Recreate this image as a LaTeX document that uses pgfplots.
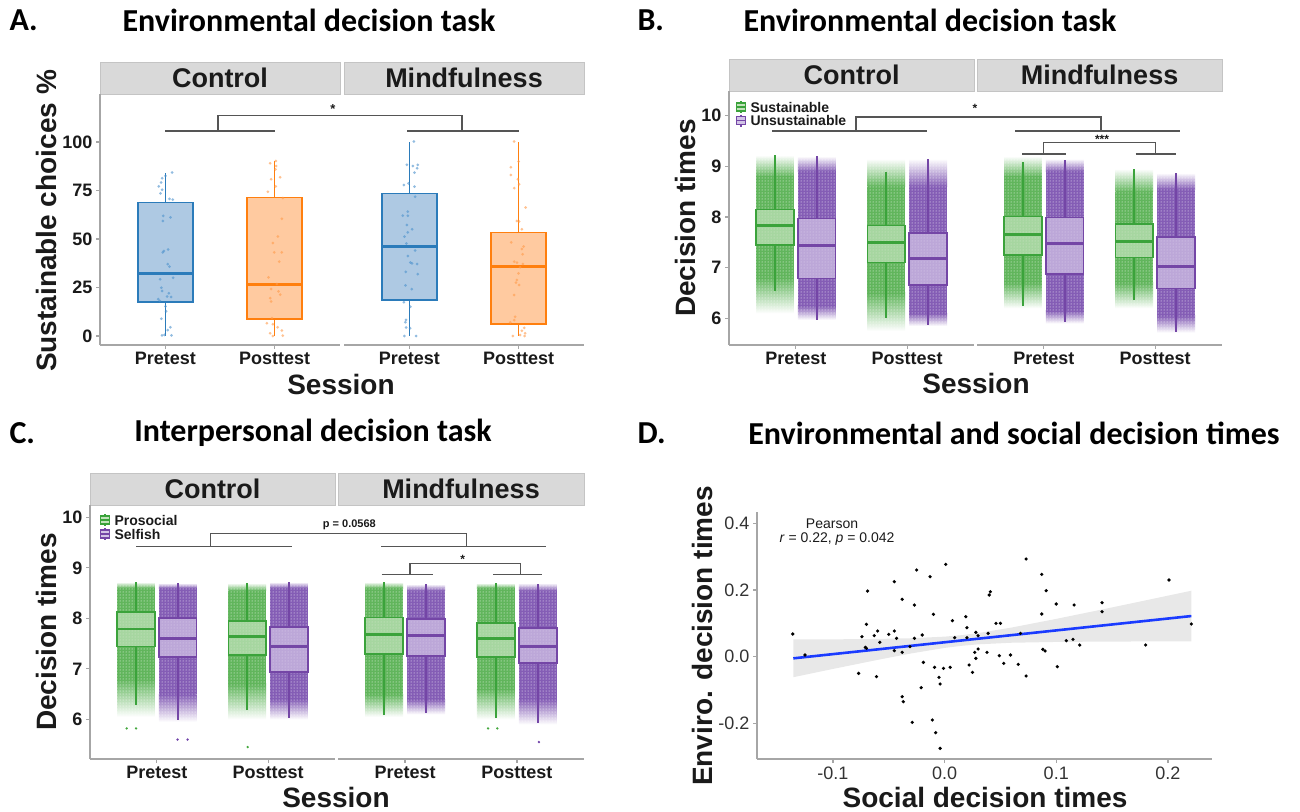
\documentclass[border=0pt]{standalone}
\usepackage{fontspec}
\setmainfont{Liberation Sans}
\newfontfamily\titlefont{Carlito}
\usepackage{pgfplots}
\pgfplotsset{compat=1.18}
\usepgfplotslibrary{statistics}
\usetikzlibrary{patterns}

\definecolor{axgray}{HTML}{A6A6A6}
\definecolor{stripfill}{HTML}{D9D9D9}
\definecolor{stripdraw}{HTML}{C4C4C4}
\definecolor{brk}{HTML}{555555}
\definecolor{bline}{HTML}{2B7BBA}
\definecolor{bfill}{HTML}{A0C0DE}
\definecolor{bpt}{HTML}{4A90CC}
\definecolor{oline}{HTML}{FF7F0E}
\definecolor{ofill}{HTML}{FFC18F}
\definecolor{opt}{HTML}{FF9A4A}
\definecolor{gline}{HTML}{3BA33B}
\definecolor{gfill}{HTML}{C2E3BB}
\definecolor{gpt}{HTML}{45A83F}
\definecolor{pline}{HTML}{7446A6}
\definecolor{pfill}{HTML}{D2C4E6}
\definecolor{ppt}{HTML}{6E40A8}
\definecolor{fitblue}{HTML}{1A3BFF}
\definecolor{txt}{HTML}{1A1A1A}

\pgfplotsset{
  facet/.style={scale only axis, anchor=south west, xmin=0.4, xmax=2.6,
    xtick={1,2}, xticklabels={Pretest,Posttest},
    axis line style={draw=axgray, line width=1.5pt, -},
    tick style={draw=axgray, line width=1.2pt},
    major tick length=4pt, tick align=outside,
    tick label style={font=\bfseries\fontsize{18}{18}\selectfont, text=txt},
    /pgf/number format/assume math mode=true,
    axis x line*=bottom, clip=false},
  leftfacet/.style={facet, axis y line*=left},
  rightfacet/.style={facet, axis y line=none},
  bp/.style n args={3}{
    boxplot/draw direction=y,
    boxplot/every box/.style={fill=#2, fill opacity=#3, draw=#1, line width=1.6pt},
    boxplot/every median/.style={draw=#1, line width=2.8pt},
    boxplot/every whisker/.style={draw=#1, line width=1.8pt},
    boxplot/whisker extend=0, mark=none, draw=#1},
  ptsA/.style={only marks, mark=*, mark size=1.5pt, color=#1, mark options={fill=#1, draw opacity=0, fill opacity=0.6}},
}

% box: pos, wl, q1, med, q3, wh, line, fill
\newcommand{\bx}[8]{%
  \addplot[bp={#7}{#8}{0.72}, boxplot prepared={draw position=#1, lower whisker=#2,
    lower quartile=#3, median=#4, upper quartile=#5, upper whisker=#6, box extend=0.34}] coordinates {};}
\newcommand{\bxA}[8]{%
  \addplot[bp={#7}{#8}{0.85}, boxplot prepared={draw position=#1, lower whisker=#2,
    lower quartile=#3, median=#4, upper quartile=#5, upper whisker=#6, box extend=0.5}] coordinates {};}
% cloud: xL, xR, min, core low, core high, max, colour
\newcommand{\cloud}[7]{%
  \addplot[draw=none, top color=white, bottom color=#7!85] coordinates {(#1,#5) (#2,#5) (#2,#6) (#1,#6)};
  \addplot[draw=none, top color=#7!85, bottom color=white] coordinates {(#1,#3) (#2,#3) (#2,#4) (#1,#4)};
  \addplot[draw=none, fill=#7!85] coordinates {(#1,#4) (#2,#4) (#2,#5) (#1,#5)};
  \addplot[draw=none, pattern=dots, pattern color=white] coordinates {(#1,#3) (#2,#3) (#2,#6) (#1,#6)};}

\newcommand{\bigbf}{\bfseries\fontsize{28}{28}\selectfont}
\newcommand{\ttl}{\titlefont\bfseries\fontsize{32}{32}\selectfont}
\newcommand{\strip}{\bfseries\fontsize{27}{27}\selectfont}

\begin{document}
\begin{tikzpicture}[x=1pt,y=1pt]
\useasboundingbox (0,0) rectangle (1300,-811);

% ---------- titles ----------
\node[anchor=west, font=\ttl] at (6,-20) {A.};
\node[font=\ttl] at (309,-20) {Environmental decision task};
\node[anchor=west, font=\ttl] at (634,-20) {B.};
\node[font=\ttl] at (930,-20) {Environmental decision task};
\node[anchor=west, font=\ttl] at (6,-433) {C.};
\node[font=\ttl] at (313,-433) {Interpersonal decision task};
\node[anchor=west, font=\ttl] at (634,-433) {D.};
\node[font=\ttl] at (1014,-433) {Environmental and social decision times};

% ---------- strips ----------
\foreach \a/\b/\t/\bt/\lab in {100/340/62/94/Control, 344/584/62/94/Mindfulness,
  729/974/59/91/Control, 977/1222/59/91/Mindfulness,
  90/335/473/505/Control, 338/584/473/505/Mindfulness}{
  \filldraw[fill=stripfill, draw=stripdraw, line width=1pt] (\a,-\t) rectangle (\b,-\bt);
  \node[font=\strip, text=txt] at ({(\a+\b)/2},{-(\t+\bt)/2}) {\lab};
}

% ================= PANEL A =================
\begin{axis}[leftfacet, at={(100pt,-345pt)}, width=240pt, height=251pt,
  ymin=-4.64, ymax=124.7, ytick={0,25,50,75,100}]
\bxA{1}{0}{17.5}{32.1}{68.7}{84}{bline}{bfill}
\bxA{2}{0}{8.9}{26.6}{71.3}{90}{oline}{ofill}
\addplot[ptsA=bpt] coordinates {
(1.061,84.2) (1.0,82.5) (0.969,81.3) (0.96,79.1) (0.939,77.1) (0.969,75.4) (0.954,73.5) (1.037,70.6) (1.067,70.3)
(0.979,61.9) (1.046,61.1) (0.976,59.3) (1.024,44.6) (0.985,43.8) (0.976,43.1) (1.021,37.0) (1.037,35.8) (1.07,30.0)
(0.951,29.2) (0.963,24.9) (0.969,23.2) (1.031,22) (1.015,20.4) (1.052,20.1) (0.933,19) (0.948,18.1) (1.0,15.3)
(1.006,12.7) (0.963,8.9) (1.046,4.5) (1.021,3.0) (0.969,0.3) (1.055,0.3) (0.991,0.6)};
\addplot[ptsA=opt] coordinates {
(2.012,90.2) (1.96,89) (2.015,87.6) (2.009,85.9) (2.052,81.8) (1.969,80.8) (2.012,77.1) (1.939,74.3) (2.076,71.1)
(2.067,60.4) (2.031,51.3) (1.985,47.9) (2.067,43.1) (1.997,43.1) (2.043,38.3) (1.945,30.2) (2.021,26.8) (1.969,24.2)
(2.037,23) (2.052,21.3) (1.96,19.5) (1.969,17.8) (1.976,9.2) (1.93,6.6) (1.985,6.1) (2.028,4.5) (2.067,2.8)
(1.96,1.4) (1.985,0) (2.076,0.2)};
\end{axis}
\begin{axis}[rightfacet, at={(344pt,-345pt)}, width=240pt, height=251pt,
  ymin=-4.64, ymax=124.7]
\bxA{1}{0}{18.6}{46}{73.4}{100}{bline}{bfill}
\bxA{2}{0}{6.2}{36}{53.3}{100}{oline}{ofill}
\addplot[ptsA=bpt] coordinates {
(1.04,100.2) (1.076,88.2) (1.031,87.6) (0.976,88.2) (1.07,86.4) (1.046,84.2) (0.991,78.7) (0.948,77.8) (1.046,77.0)
(1.052,71.8) (0.985,64.1) (0.939,62) (0.985,62) (0.976,57.2) (1.024,55) (0.985,53.4) (0.954,51.2) (0.972,47.7)
(1.052,44) (0.985,41.2) (1.009,37.9) (1.024,37.4) (1.07,37.1) (0.966,33.1) (1.076,31.9) (0.963,26.1) (1.021,24.1)
(0.948,17.4) (1.009,15.1) (0.969,8.3) (0.963,7.1) (0.969,4.4) (1.006,4.0) (0.954,0) (1.061,0)};
\addplot[ptsA=opt] coordinates {
(1.96,100.2) (2.0,89.9) (1.93,87) (1.93,83) (1.994,80.8) (2.006,78.2) (1.96,76.2) (2.064,66.2) (1.985,59.3)
(2.006,59) (2.031,55) (1.933,48.3) (2.046,46.1) (2.031,44.8) (2.037,42.1) (1.96,38.3) (1.985,37.8) (2.04,37.1)
(2.015,35.4) (2.0,32.3) (1.985,28.9) (1.976,27.5) (2.006,26.3) (1.96,21.1) (1.969,9.9) (1.96,8.2) (1.924,7)
(2.052,4.2) (2.031,2.7) (2.061,1.4) (1.948,0) (2.055,0) (2.015,0.5)};
\end{axis}
\begin{scope}[brk, line width=1.3pt]
\draw (165,-131) -- (275,-131);
\draw (407,-131) -- (519,-131);
\draw (218,-131) -- (218,-115.7) -- (462,-115.7) -- (462,-131);
\end{scope}
\node[font=\bfseries\fontsize{13}{13}\selectfont, text=txt] at (333,-109) {*};
\node[rotate=90, font=\bigbf, text=txt] at (46,-221) {Sustainable choices \%};
\node[font=\bigbf, text=txt] at (341,-384) {Session};

% ================= PANEL B =================
\begin{axis}[leftfacet, at={(729pt,-345pt)}, width=245pt, height=254pt,
  ymin=5.473, ymax=10.488, ytick={6,7,8,9,10}]
\cloud{0.6425}{0.9825}{6.1}{6.8}{8.8}{9.22}{gpt}
\bx{0.8125}{6.53}{7.45}{7.83}{8.15}{9.22}{gline}{gfill}
\cloud{1.0175}{1.3575}{5.97}{6.25}{8.9}{9.2}{ppt}
\bx{1.1875}{5.97}{6.79}{7.43}{7.97}{9.2}{pline}{pfill}
\cloud{1.6425}{1.9825}{5.75}{6.5}{8.6}{9.15}{gpt}
\bx{1.8125}{6.0}{7.10}{7.50}{7.83}{8.89}{gline}{gfill}
\cloud{2.0175}{2.3575}{5.85}{6.1}{8.6}{9.15}{ppt}
\bx{2.1875}{5.87}{6.66}{7.18}{7.68}{9.14}{pline}{pfill}
\end{axis}
\begin{axis}[rightfacet, at={(977pt,-345pt)}, width=245pt, height=254pt,
  ymin=5.473, ymax=10.488]
\cloud{0.6425}{0.9825}{6.2}{6.7}{8.8}{9.2}{gpt}
\bx{0.8125}{6.24}{7.25}{7.66}{8.01}{9.08}{gline}{gfill}
\cloud{1.0175}{1.3575}{5.9}{6.15}{8.9}{9.15}{ppt}
\bx{1.1875}{5.93}{6.87}{7.48}{7.99}{9.13}{pline}{pfill}
\cloud{1.6425}{1.9825}{6.2}{6.7}{8.5}{8.95}{gpt}
\bx{1.8125}{6.37}{7.20}{7.51}{7.86}{8.94}{gline}{gfill}
\cloud{2.0175}{2.3575}{5.72}{6.05}{8.55}{8.87}{ppt}
\bx{2.1875}{5.72}{6.59}{7.03}{7.60}{8.87}{pline}{pfill}
\end{axis}
\begin{scope}[brk, line width=1.2pt]
\draw (856,-131) -- (856,-117) -- (1101,-117) -- (1101,-131);
\draw (772,-131) -- (927,-131);
\draw (1015,-131) -- (1180,-131);
\draw (1043.4,-154) -- (1043.4,-142.7) -- (1155.4,-142.7) -- (1155.4,-154);
\draw (1022,-154) -- (1066,-154);
\draw (1135.5,-154) -- (1176,-154);
\end{scope}
\node[font=\bfseries\fontsize{12}{12}\selectfont, text=txt] at (975,-108) {*};
\node[font=\bfseries\fontsize{12}{12}\selectfont, text=txt] at (1102,-139) {***};
% legend B
\filldraw[fill=gfill, draw=gline, line width=1.1pt] (736.5,-103) rectangle (745.5,-111);
\draw[gline, line width=1.1pt] (736.5,-107) -- (745.5,-107) (741,-101) -- (741,-103) (741,-111) -- (741,-113);
\filldraw[fill=pfill, draw=pline, line width=1.1pt] (736.5,-116.5) rectangle (745.5,-124.5);
\draw[pline, line width=1.1pt] (736.5,-120.5) -- (745.5,-120.5) (741,-114.5) -- (741,-116.5) (741,-124.5) -- (741,-126.5);
\node[anchor=west, font=\bfseries\fontsize{14}{14}\selectfont, text=txt] at (747,-107) {Sustainable};
\node[anchor=west, font=\bfseries\fontsize{14}{14}\selectfont, text=txt] at (747,-120.5) {Unsustainable};
\node[rotate=90, font=\bigbf, text=txt] at (685,-218) {Decision times};
\node[font=\bigbf, text=txt] at (976,-383) {Session};

% ================= PANEL C =================
\begin{axis}[leftfacet, at={(90pt,-759pt)}, width=245pt, height=254pt,
  ymin=5.214, ymax=10.244, ytick={6,7,8,9,10}]
\cloud{0.6425}{0.9825}{6.05}{6.8}{8.6}{8.72}{gpt}
\bx{0.8125}{6.28}{7.44}{7.79}{8.13}{8.72}{gline}{gfill}
\cloud{1.0175}{1.3575}{5.95}{6.5}{8.6}{8.7}{ppt}
\bx{1.1875}{5.99}{7.23}{7.60}{8.01}{8.69}{pline}{pfill}
\cloud{1.6425}{1.9825}{6.0}{6.7}{8.55}{8.7}{gpt}
\bx{1.8125}{6.18}{7.27}{7.64}{7.95}{8.69}{gline}{gfill}
\cloud{2.0175}{2.3575}{6.0}{6.4}{8.6}{8.72}{ppt}
\bx{2.1875}{6.02}{6.94}{7.44}{7.83}{8.72}{pline}{pfill}
\addplot[only marks, mark=*, mark size=1.3pt, color=gpt, mark options={fill=gpt, draw opacity=0}] coordinates {(0.729,5.82) (0.814,5.82) (1.816,5.45)};
\addplot[only marks, mark=*, mark size=1.3pt, color=ppt, mark options={fill=ppt, draw opacity=0}] coordinates {(1.186,5.6) (1.276,5.6)};
\end{axis}
\begin{axis}[rightfacet, at={(338pt,-759pt)}, width=246pt, height=254pt,
  ymin=5.214, ymax=10.244]
\cloud{0.6425}{0.9825}{6.05}{6.5}{8.6}{8.72}{gpt}
\bx{0.8125}{6.08}{7.29}{7.68}{8.02}{8.72}{gline}{gfill}
\cloud{1.0175}{1.3575}{6.1}{6.4}{8.55}{8.68}{ppt}
\bx{1.1875}{6.12}{7.25}{7.66}{7.99}{8.68}{pline}{pfill}
\cloud{1.6425}{1.9825}{6.0}{6.6}{8.6}{8.7}{gpt}
\bx{1.8125}{6.02}{7.23}{7.60}{7.91}{8.70}{gline}{gfill}
\cloud{2.0175}{2.3575}{5.9}{6.4}{8.55}{8.7}{ppt}
\bx{2.1875}{5.92}{7.11}{7.44}{7.81}{8.68}{pline}{pfill}
\addplot[only marks, mark=*, mark size=1.3pt, color=gpt, mark options={fill=gpt, draw opacity=0}] coordinates {(1.742,5.82) (1.825,5.82)};
\addplot[only marks, mark=*, mark size=1.3pt, color=ppt, mark options={fill=ppt, draw opacity=0}] coordinates {(2.197,5.55)};
\end{axis}
\begin{scope}[brk, line width=1.2pt]
\draw (210.8,-546.7) -- (210.8,-533.3) -- (466.8,-533.3) -- (466.8,-546.7);
\draw (136,-546.7) -- (291.7,-546.7);
\draw (381,-546.7) -- (545.6,-546.7);
\draw (410,-574.3) -- (410,-563.3) -- (520.7,-563.3) -- (520.7,-574.3);
\draw (381.7,-574.3) -- (432.8,-574.3);
\draw (493,-574.3) -- (541.5,-574.3);
\end{scope}
\node[font=\bfseries\fontsize{11}{11}\selectfont, text=txt] at (349.4,-525) {p = 0.0568};
\node[font=\bfseries\fontsize{12}{12}\selectfont, text=txt] at (462.7,-559) {*};
% legend C
\filldraw[fill=gfill, draw=gline, line width=1.1pt] (100.5,-516) rectangle (109.5,-524);
\draw[gline, line width=1.1pt] (100.5,-520) -- (109.5,-520) (105,-514) -- (105,-516) (105,-524) -- (105,-526);
\filldraw[fill=pfill, draw=pline, line width=1.1pt] (100.5,-530) rectangle (109.5,-538);
\draw[pline, line width=1.1pt] (100.5,-534) -- (109.5,-534) (105,-528) -- (105,-530) (105,-538) -- (105,-540);
\node[anchor=west, font=\bfseries\fontsize{14}{14}\selectfont, text=txt] at (111,-520) {Prosocial};
\node[anchor=west, font=\bfseries\fontsize{14}{14}\selectfont, text=txt] at (111,-534) {Selfish};
\node[rotate=90, font=\bigbf, text=txt] at (46,-632) {Decision times};
\node[font=\bigbf, text=txt] at (336,-797) {Session};

% ================= PANEL D =================
\begin{axis}[scale only axis, anchor=south west, at={(757pt,-759pt)}, width=455pt, height=247pt,
  xmin=-0.168, xmax=0.2395, ymin=-0.307, ymax=0.434,
  axis x line*=bottom, axis y line*=left,
  axis line style={draw=axgray, line width=1.5pt, -},
  tick style={draw=axgray, line width=1.2pt}, major tick length=4pt, tick align=outside,
  xtick={-0.1,0,0.1,0.2}, ytick={-0.2,0,0.2,0.4},
  tick label style={font=\fontsize{18}{18}\selectfont, text=black!80},
  /pgf/number format/.cd, assume math mode=true, fixed, fixed zerofill, precision=1]
\addplot[only marks, mark=*, mark size=1.8pt, color=black, mark options={fill=black, draw opacity=0}] coordinates {
(-0.136,0.068) (-0.125,0.005) (-0.077,-0.05) (-0.074,0.06) (-0.071,0.028) (-0.070,0.097) (-0.069,0.197)
(-0.070,0.025) (-0.063,0.063) (-0.061,-0.06) (-0.060,0.077) (-0.058,0.043) (-0.050,0.067) (-0.045,0.225)
(-0.045,0.077) (-0.045,0.018) (-0.043,0.055) (-0.038,0.172) (-0.038,-0.12) (-0.037,-0.135) (-0.038,0.013)
(-0.031,0.03) (-0.029,-0.197) (-0.027,0.155) (-0.027,0.055) (-0.025,0.26) (-0.021,-0.093) (-0.020,0.065)
(-0.019,-0.017) (-0.013,0.24) (-0.011,-0.19) (-0.010,0.127) (-0.009,-0.032) (-0.008,-0.228) (-0.005,-0.062)
(-0.004,-0.082) (-0.004,-0.275) (-0.001,-0.035) (0.001,0.277) (0.005,-0.032) (0.007,0.108) (0.009,0.057)
(0.019,0.12) (0.020,0.087) (0.020,0.057) (0.022,-0.025) (0.025,-0.047) (0.027,0.013) (0.028,0.073)
(0.028,-0.005) (0.030,0.023) (0.030,0.063) (0.038,0.013) (0.039,0.07) (0.040,0.185) (0.041,0.195)
(0.046,0.1) (0.050,0.1) (0.049,0.003) (0.053,-0.02) (0.059,0.005) (0.066,-0.023) (0.068,0.07)
(0.073,0.293) (0.073,-0.058) (0.087,0.247) (0.087,0.128) (0.088,0.022) (0.090,0.017) (0.091,0.198)
(0.100,0.158) (0.101,-0.03) (0.109,0.048) (0.115,0.052) (0.116,0.155) (0.121,0.035) (0.141,0.162)
(0.141,0.135) (0.180,0.035) (0.201,0.23) (0.221,0.098)};
\addplot[draw=none, fill=gray!40, fill opacity=0.45] coordinates {
(-0.1355,0.0516) (-0.10,0.0520) (-0.06,0.0532) (-0.03,0.0553) (0.0,0.0601) (0.015,0.0645) (0.03,0.0708)
(0.06,0.0874) (0.10,0.1134) (0.14,0.1408) (0.18,0.1689) (0.221,0.1979)
(0.221,0.0459) (0.18,0.0457) (0.14,0.0452) (0.10,0.0442) (0.06,0.0418) (0.03,0.0370) (0.015,0.0325)
(0.0,0.0263) (-0.03,0.0097) (-0.06,-0.0096) (-0.10,-0.0368) (-0.1355,-0.0616)};
\addplot[fitblue, line width=2.6pt] coordinates {(-0.1355,-0.005) (0.221,0.1219)};
\end{axis}
\node[font=\fontsize{14}{14}\selectfont, text=txt] at (832,-524) {Pearson};
\node[font=\fontsize{14}{14}\selectfont, text=txt] at (837,-539) {\textit{r} = 0.22, \textit{p} = 0.042};
\node[rotate=90, font=\bigbf, text=txt] at (702,-636) {Enviro. decision times};
\node[font=\bigbf, text=txt] at (985,-797) {Social decision times};
\end{tikzpicture}
\end{document}
